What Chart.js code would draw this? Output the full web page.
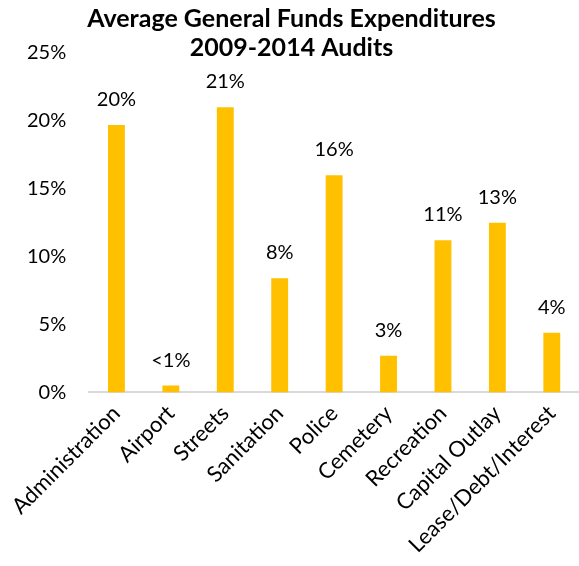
<!DOCTYPE html>
<html>
<head>
<meta charset="utf-8">
<script src="https://cdn.jsdelivr.net/npm/chart.js@4.4.1/dist/chart.umd.min.js"></script>
<style>
    html, body { margin: 0; padding: 0; background: #fff; }
    #wrap { width: 579px; height: 566px; position: relative; }
</style>
</head>
<body>
<div id="wrap"><canvas id="expenditures"></canvas></div>
<script>
const categories = ['Administration', 'Airport', 'Streets', 'Sanitation', 'Police', 'Cemetery', 'Recreation', 'Capital Outlay', 'Lease/Debt/Interest'];
const shares = [19.7, 0.5, 21.0, 8.4, 16.0, 2.7, 11.2, 12.5, 4.4];
const titleLines = ['Average General Funds Expenditures', '2009-2014 Audits'];
const yTicks = [0, 5, 10, 15, 20, 25];

const FONT = 'Lato, "Open Sans", sans-serif';
const BAR_COLOR = '#FFC000';

// value labels over each bar
const barLabels = {
    id: 'barLabels',
    afterDatasetsDraw(chart) {
        const ctx = chart.ctx;
        const meta = chart.getDatasetMeta(0);
        ctx.save();
        ctx.font = '20px ' + FONT;
        ctx.fillStyle = '#000';
        ctx.textAlign = 'center';
        ctx.textBaseline = 'alphabetic';
        meta.data.forEach(function (bar, i) {
            const v = shares[i];
            const txt = v < 1 ? '<1%' : Math.round(v) + '%';
            ctx.fillText(txt, bar.x, bar.y - 19);
        });
        ctx.restore();
    }
};

const ctx = document.getElementById('expenditures').getContext('2d');
const chart = new Chart(ctx, {
    type: 'bar',
    data: {
        labels: categories,
        datasets: [{
            data: shares,
            backgroundColor: BAR_COLOR,
            borderWidth: 0,
            barPercentage: 0.62,
            categoryPercentage: 0.5
        }]
    },
    options: {
        responsive: true,
        maintainAspectRatio: false,
        animation: false,
        layout: { padding: { left: 4, right: 0, top: 4, bottom: 0 } },
        plugins: {
            legend: { display: false },
            tooltip: { enabled: false },
            title: {
                display: true,
                text: titleLines,
                color: '#000',
                font: { family: FONT, size: 25, weight: 'bold', lineHeight: 1.18 },
                padding: { top: 0, bottom: -10 }
            }
        },
        scales: {
            x: {
                grid: { display: false, drawTicks: false },
                border: { display: true, color: '#d9d9d9', width: 2 },
                ticks: {
                    color: '#000',
                    font: { family: FONT, size: 22 },
                    minRotation: 45,
                    maxRotation: 45,
                    padding: 8,
                    autoSkip: false
                }
            },
            y: {
                min: 0,
                max: 25,
                afterBuildTicks: function (axis) {
                    axis.ticks = yTicks.map(function (v) { return { value: v }; });
                },
                grid: { display: false, drawTicks: false },
                border: { display: false },
                ticks: {
                    color: '#000',
                    font: { family: FONT, size: 20 },
                    padding: 23,
                    callback: function (v) { return v + '%'; }
                }
            }
        }
    },
    plugins: [barLabels]
});
</script>
</body>
</html>
